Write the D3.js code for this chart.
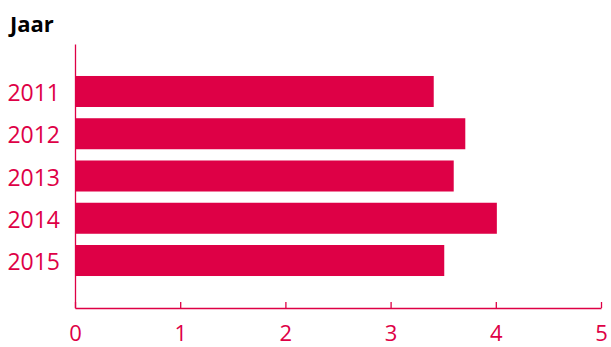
<!DOCTYPE html>
<html><head><meta charset="utf-8">
<script src="https://cdn.jsdelivr.net/npm/d3@7"></script>
<style>body{margin:0;background:#fff}svg{display:block}</style>
</head><body>
<script>
const years = ["2011","2012","2013","2014","2015"];
const values = [3.41, 3.71, 3.60, 4.01, 3.51];
const xTicks = [0,1,2,3,4,5];
const title = "Jaar";

const W = 611, H = 347;
const red = "#de0046";
const font = "'Open Sans', sans-serif";
const svg = d3.select("body").append("svg").attr("width", W).attr("height", H);

const x = d3.scaleLinear().domain([0,5]).range([75,601]);
const y = d3.scaleBand().domain(years).range([44,308]).paddingInner(0.266).paddingOuter(0.757);

svg.append("text").attr("x",10).attr("y",32).text(title)
  .attr("font-family",font).attr("font-weight","bold").attr("font-size",22).attr("fill","#000");

svg.selectAll("rect.bar").data(years).enter().append("rect")
  .attr("class","bar")
  .attr("x", x(0)).attr("y", d=>y(d))
  .attr("width", (d,i)=>x(values[i])-x(0)).attr("height", y.bandwidth())
  .attr("fill", red);

const xa = svg.append("g").attr("transform","translate(0,308)")
  .call(d3.axisBottom(x).tickValues(xTicks).tickSize(-6).tickPadding(14).tickSizeOuter(0).tickFormat(d3.format("d")));
xa.select(".domain").attr("stroke",red).attr("stroke-width",1.3);
xa.selectAll(".tick line").attr("stroke",red).attr("stroke-width",1.3);
xa.selectAll(".tick text").attr("fill",red).attr("font-family",font).attr("font-size",22).attr("dy","0.71em").attr("y",17);

const ya = svg.append("g").attr("transform","translate(75,0)")
  .call(d3.axisLeft(y).tickSize(0).tickPadding(15).tickSizeOuter(0));
ya.select(".domain").attr("stroke",red).attr("stroke-width",1.3);
ya.selectAll(".tick text").attr("fill",red).attr("font-family",font).attr("font-size",23).attr("dy","0.42em");
</script>
</body></html>
